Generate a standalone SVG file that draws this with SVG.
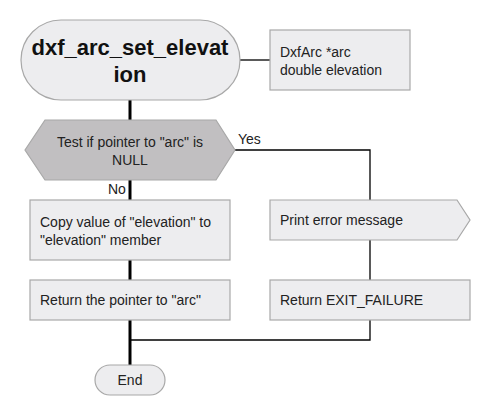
<svg xmlns="http://www.w3.org/2000/svg" width="490" height="420" viewBox="0 0 490 420">
<style>
.box{fill:#ededef;stroke:#a8a8a8;stroke-width:1.2}
.dec{fill:#c1bfc1;stroke:#a8a8a8;stroke-width:1.2}
.t{font-family:"Liberation Sans",Arial,sans-serif;font-size:14px;fill:#222}
.title{font-family:"Liberation Sans",Arial,sans-serif;font-size:22px;font-weight:bold;fill:#111}
.main{stroke:#000;stroke-width:3;fill:none}
.thin{stroke:#000;stroke-width:1.3;fill:none}
</style>
<rect width="490" height="420" fill="#fff"/>
<g id="connectors">
<line class="main" x1="130" y1="100" x2="130" y2="120"/>
<line class="main" x1="130" y1="180" x2="130" y2="200"/>
<line class="main" x1="130" y1="260" x2="130" y2="280"/>
<line class="main" x1="130" y1="320" x2="130" y2="366"/>
<line class="thin" x1="240" y1="60" x2="270" y2="60"/>
<polyline class="thin" points="235,150 370,150 370,200"/>
<line class="thin" x1="370" y1="240" x2="370" y2="280"/>
<polyline class="thin" points="370,320 370,340 130,340"/>
<text class="t" x="238" y="144">Yes</text>
<text class="t" x="108" y="194">No</text>
</g>
<g id="start">
<rect class="box" x="21" y="20" width="219" height="80" rx="40" ry="40"/>
<text class="title" x="130" y="55" text-anchor="middle">dxf_arc_set_elevat</text>
<text class="title" x="130" y="82" text-anchor="middle">ion</text>
</g>
<g id="params">
<rect class="box" x="270" y="30" width="140" height="60"/>
<text class="t" x="280" y="57">DxfArc *arc</text>
<text class="t" x="280" y="75">double elevation</text>
</g>
<g id="test">
<polygon class="dec" points="25,150 45,120 216,120 235,150 216,180 45,180"/>
<text class="t" x="130" y="147" text-anchor="middle">Test if pointer to "arc" is</text>
<text class="t" x="130" y="165" text-anchor="middle">NULL</text>
</g>
<g id="copy">
<rect class="box" x="30" y="200" width="200" height="60"/>
<text class="t" x="40" y="227">Copy value of "elevation" to</text>
<text class="t" x="40" y="245">"elevation" member</text>
</g>
<g id="ret">
<rect class="box" x="30" y="280" width="200" height="40"/>
<text class="t" x="40" y="305">Return the pointer to "arc"</text>
</g>
<g id="print">
<polygon class="box" points="270,200 457,200 470,220 457,240 270,240"/>
<text class="t" x="280" y="225">Print error message</text>
</g>
<g id="fail">
<rect class="box" x="270" y="280" width="200" height="40"/>
<text class="t" x="280" y="305">Return EXIT_FAILURE</text>
</g>
<g id="end">
<rect class="box" x="95" y="365" width="70" height="30" rx="15" ry="15"/>
<text class="t" x="130" y="385" text-anchor="middle">End</text>
</g>
</svg>
